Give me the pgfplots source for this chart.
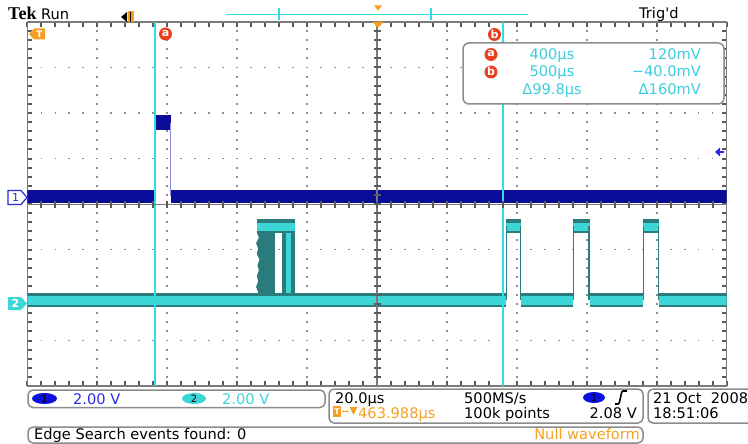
\documentclass[border=0pt]{standalone}
\usepackage{pgfplots}
\pgfplotsset{compat=1.18}
\usepackage{fontspec}
\setmainfont{DejaVu Sans}
\newfontfamily\tekfont{Liberation Serif}
\usetikzlibrary{arrows.meta}
\definecolor{ch1}{HTML}{0C0C9A}
\definecolor{ch1edge}{HTML}{8E8EE2}
\definecolor{ch1txt}{HTML}{2A2AE6}
\definecolor{blueell}{HTML}{0A10E0}
\definecolor{ch2}{HTML}{3CD6D6}
\definecolor{ch2dark}{HTML}{2A7C7C}
\definecolor{cur}{HTML}{30DCE6}
\definecolor{ro}{HTML}{3CCDE0}
\definecolor{framegray}{HTML}{7A7A7A}
\definecolor{tickgray}{HTML}{5A5A5A}
\definecolor{gridgray}{HTML}{8E8E8E}
\definecolor{tekorange}{HTML}{F5A023}
\definecolor{tekred}{HTML}{E8401E}
\definecolor{boxgray}{HTML}{8C8C8C}
\begin{document}
\fontsize{14.6}{17}\selectfont
\begin{tikzpicture}[x=1pt,y=-1pt]
\begin{axis}[
  at={(27.5pt,-386pt)}, anchor=south west,
  width=699pt, height=364pt, scale only axis,
  xmin=-5, xmax=5, ymin=-4, ymax=4,
  xtick={-5,...,5}, ytick={-4,...,4},
  minor x tick num=4, minor y tick num=4,
  xticklabels={}, yticklabels={},
  tick align=inside,
  major tick length=5pt, minor tick length=5pt,
  every tick/.style={draw=tickgray, line width=2pt},
  every minor tick/.style={draw=tickgray, line width=2pt},
  axis line style={framegray, line width=1.5pt},
  xmajorgrids, ymajorgrids,
  x grid style={gridgray, line width=1.9pt, dash pattern=on 1.9pt off 7.2pt, dash phase=0.95pt},
  y grid style={gridgray, line width=1.9pt, dash pattern=on 1.9pt off 12.08pt, dash phase=0.95pt},
]
% ---- Channel 1 ----
\addplot[ch1, line width=13pt] coordinates {(-5,0.165) (-3.19,0.165)};
\addplot[ch1, line width=13pt] coordinates {(-2.94,0.165) (5,0.165)};
\addplot[ch1, line width=15pt] coordinates {(-3.19,1.791) (-2.94,1.791)};
\addplot[ch1, line width=1.6pt] coordinates {(-3.175,0.165) (-3.175,1.791)};
\addplot[ch1edge, line width=1.8pt] coordinates {(-2.955,0.165) (-2.955,1.791)};
% ---- Channel 2 ----
\addplot[ch2dark, line width=14pt] coordinates {(-5,-2.11) (1.845,-2.11)};
\addplot[ch2dark, line width=14pt] coordinates {(2.06,-2.11) (2.80,-2.11)};
\addplot[ch2dark, line width=14pt] coordinates {(3.04,-2.11) (3.805,-2.11)};
\addplot[ch2dark, line width=14pt] coordinates {(4.04,-2.11) (5,-2.11)};
% jittery first pulse
\addplot[fill=ch2dark, draw=none] coordinates {(-1.46,-0.50) (-1.70,-0.50) (-1.72,-0.62) (-1.69,-0.74) (-1.73,-0.86) (-1.70,-0.98) (-1.72,-1.10) (-1.68,-1.22) (-1.71,-1.34) (-1.69,-1.46) (-1.72,-1.58) (-1.70,-1.70) (-1.73,-1.82) (-1.70,-1.94) (-1.71,-2.05) (-1.46,-2.05)};
\addplot[fill=ch2dark, draw=none] coordinates {(-1.36,-0.50) (-1.17,-0.50) (-1.17,-2.05) (-1.36,-2.05)};
\addplot[ch2, line width=5pt] coordinates {(-1.27,-0.55) (-1.27,-1.95)};
\addplot[ch2dark, line width=14pt] coordinates {(-1.72,-0.484) (-1.17,-0.484)};
\addplot[ch2, line width=8pt] coordinates {(-1.72,-0.50) (-1.17,-0.50)};
% regular pulses
\addplot[ch2dark, line width=14pt] coordinates {(1.845,-0.484) (2.06,-0.484)};
\addplot[ch2dark, line width=14pt] coordinates {(2.80,-0.484) (3.04,-0.484)};
\addplot[ch2dark, line width=14pt] coordinates {(3.805,-0.484) (4.04,-0.484)};
\addplot[ch2, line width=8pt] coordinates {(1.845,-0.50) (2.06,-0.50)};
\addplot[ch2, line width=8pt] coordinates {(2.80,-0.50) (3.04,-0.50)};
\addplot[ch2, line width=8pt] coordinates {(3.805,-0.50) (4.04,-0.50)};
\addplot[ch2dark, line width=1.5pt] coordinates {(1.855,-2.11) (1.855,-0.484)};
\addplot[ch2dark, line width=1.5pt] coordinates {(2.05,-2.11) (2.05,-0.484)};
\addplot[ch2dark, line width=1.5pt] coordinates {(2.81,-2.11) (2.81,-0.484)};
\addplot[ch2dark, line width=1.5pt] coordinates {(3.03,-2.11) (3.03,-0.484)};
\addplot[ch2dark, line width=1.5pt] coordinates {(3.815,-2.11) (3.815,-0.484)};
\addplot[ch2dark, line width=1.5pt] coordinates {(4.03,-2.11) (4.03,-0.484)};
% baseline cyan core
\addplot[ch2, line width=9pt] coordinates {(-5,-2.13) (1.845,-2.13)};
\addplot[ch2, line width=9pt] coordinates {(2.06,-2.13) (2.80,-2.13)};
\addplot[ch2, line width=9pt] coordinates {(3.04,-2.13) (3.805,-2.13)};
\addplot[ch2, line width=9pt] coordinates {(4.04,-2.13) (5,-2.13)};
% ---- cursors ----
\addplot[cur, line width=2pt] coordinates {(-3.183,-4) (-3.183,4)};
\addplot[cur, line width=2pt] coordinates {(1.804,-4) (1.804,4)};
\end{axis}
% ---- centre cross with ticks ----
\draw[framegray, line width=1.5pt] (27.5,204.5) -- (726.5,204.5) (377,22) -- (377,386);
\foreach \i in {1,...,49} {
  \draw[tickgray, line width=2pt] (27.5+13.98*\i,201) -- ++(0,7);
}
\foreach \j in {1,...,39} {
  \draw[tickgray, line width=2pt] (373.5,22+9.1*\j) -- ++(7,0);
}
% ---- top line ----
\node[anchor=base west, inner sep=0, font=\tekfont\bfseries\fontsize{18}{18}\selectfont] at (8,20) {Tek};
\node[anchor=base west, inner sep=0] at (41,20) {Run};
\node[anchor=base west, inner sep=0] at (639,19) {Trig\textquotesingle d};
\fill[black] (121,17) -- (127,12) -- (127,22) -- cycle;
\fill[tekorange] (128,11.5) rectangle (134,22.5);
\draw[black, line width=1pt] (130,12) -- (130,22);
\draw[cur, line width=1.5pt] (226,14.5) -- (528,14.5);
\draw[cur, line width=1.2pt] (279,8) -- (279,20) (431,8) -- (431,20);
\fill[tekorange] (374,5.5) -- (382,5.5) -- (378,10.5) -- cycle;
\fill[tekorange] (372.5,22) -- (383.5,22) -- (378,28) -- cycle;
% ---- T marker and cursor tags ----
\fill[tekorange] (29,34) -- (34,28.5) -- (45,28.5) -- (45,39.5) -- (34,39.5) -- cycle;
\node[white, inner sep=0, font=\bfseries\fontsize{9}{9}\selectfont] at (39.5,34) {T};
\fill[tekred] (165.5,34) circle (6.5pt);
\node[white, inner sep=0, font=\bfseries\fontsize{11}{11}\selectfont] at (165.5,33.3) {a};
\fill[tekred] (494.5,34.5) circle (6.5pt);
\node[white, inner sep=0, font=\bfseries\fontsize{11}{11}\selectfont] at (494.5,34) {b};
% ---- readout ----
\draw[boxgray, line width=1.5pt, fill=white, rounded corners=6pt] (463,43) rectangle (724,104);
\fill[tekred] (491,54.5) circle (6.5pt);
\node[white, inner sep=0, font=\bfseries\fontsize{11}{11}\selectfont] at (491,53.8) {a};
\fill[tekred] (491,72) circle (6.5pt);
\node[white, inner sep=0, font=\bfseries\fontsize{11}{11}\selectfont] at (491,71.5) {b};
\node[ro, anchor=base, inner sep=0] at (552,59.5) {400µs};
\node[ro, anchor=base east, inner sep=0] at (701,59.5) {120mV};
\node[ro, anchor=base, inner sep=0] at (552,77) {500µs};
\node[ro, anchor=base east, inner sep=0] at (701,77) {−40.0mV};
\node[ro, anchor=base, inner sep=0] at (552,95) {Δ99.8µs};
\node[ro, anchor=base east, inner sep=0] at (701,95) {Δ160mV};
% ---- side markers ----
\fill[ch1txt] (715,152) -- (720,147.5) -- (720,156.5) -- cycle;
\draw[ch1txt, line width=1.5pt] (719,152) -- (723.5,152);
\draw[ch1txt, line width=1.2pt, fill=white] (8,190.5) -- (21,190.5) -- (27,197.5) -- (21,204.5) -- (8,204.5) -- cycle;
\node[ch1txt, inner sep=0, font=\fontsize{11}{11}\selectfont] at (15.5,197.5) {1};
\fill[ch2] (8,297) -- (21,297) -- (27,303.5) -- (21,310) -- (8,310) -- cycle;
\node[white, inner sep=0, font=\bfseries\fontsize{11}{11}\selectfont] at (15.5,303.5) {2};
% ---- bottom boxes ----
\draw[boxgray, line width=1.5pt, rounded corners=5pt] (28,390) rectangle (325,407.5);
\fill[blueell] (44.5,398.5) ellipse (12.5pt and 5.5pt);
\node[black, inner sep=0, font=\fontsize{10}{10}\selectfont] at (44.5,398.5) {1};
\node[ch1txt, anchor=base west, inner sep=0] at (73,404) {2.00 V};
\fill[ch2] (194,398.5) ellipse (12pt and 5.5pt);
\node[black, inner sep=0, font=\fontsize{10}{10}\selectfont] at (194,398.5) {2};
\node[ch2, anchor=base west, inner sep=0] at (222,404) {2.00 V};
\draw[boxgray, line width=1.5pt, rounded corners=5pt] (329,389) rectangle (643,423);
\node[anchor=base west, inner sep=0] at (335,403) {20.0µs};
\fill[tekorange] (333,406) rectangle (341,417);
\node[white, inner sep=0, font=\bfseries\fontsize{8}{8}\selectfont] at (337,411.5) {T};
\draw[tekorange, line width=1.2pt, -{Stealth[length=3pt]}] (341.5,411.5) -- (349,411.5);
\fill[tekorange] (349.5,407) -- (357.5,407) -- (353.5,415) -- cycle;
\node[tekorange, anchor=base west, inner sep=0] at (358,418) {463.988µs};
\node[anchor=base west, inner sep=0] at (464,403) {500MS/s};
\node[anchor=base west, inner sep=0] at (464,418) {100k points};
\fill[blueell] (594,397.5) ellipse (11pt and 5.5pt);
\node[black, inner sep=0, font=\fontsize{10}{10}\selectfont] at (594,397.5) {1};
\draw[black, line width=1.6pt] (615,404) -- (618,404) .. controls (620.5,404) and (620.5,391) .. (623,391) -- (627,391);
\node[anchor=base east, inner sep=0] at (637,418) {2.08 V};
\draw[boxgray, line width=1.5pt, rounded corners=5pt] (648,389) rectangle (760,423);
\node[anchor=base west, inner sep=0] at (653,403) {21 Oct\ \ 2008};
\node[anchor=base west, inner sep=0] at (653,418) {18:51:06};
\draw[boxgray, line width=1.5pt, rounded corners=5pt] (28,427) rectangle (643,443);
\node[anchor=base west, inner sep=0] at (34,439) {Edge Search events found: 0};
\node[tekorange, anchor=base east, inner sep=0] at (640,439) {Null waveform};
\pgfresetboundingbox
\path[use as bounding box] (0,0) rectangle (748,444);
\end{tikzpicture}
\end{document}
